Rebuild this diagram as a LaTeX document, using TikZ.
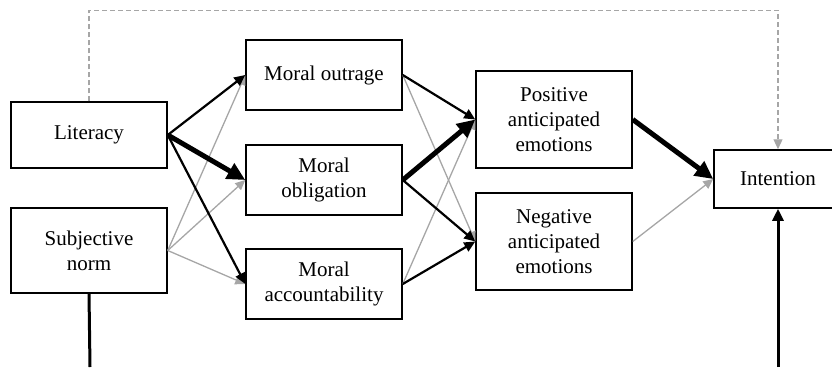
\documentclass[tikz,border=0pt]{standalone}
\usepackage{fontspec}
\setmainfont{Liberation Serif}
\usetikzlibrary{arrows.meta}
\definecolor{lg}{HTML}{A6A6A6}
\tikzset{
  box/.style={draw=black, line width=1.5pt, fill=white, align=center, inner sep=0pt,
    minimum width=156pt, font=\fontsize{21}{25}\selectfont},
  blk/.style={draw=black, line width=2.2pt, -{Triangle[length=11pt,width=10pt]}},
  thk/.style={draw=black, line width=5pt, -{Triangle[length=18pt,width=17pt]}},
  gry/.style={draw=lg, line width=1.3pt, -{Triangle[length=10pt,width=9pt]}},
  dsh/.style={draw=lg, line width=1.2pt, dash pattern=on 5pt off 3pt, -{Triangle[length=10pt,width=9pt]}},
  base/.style={draw=black, line width=3pt},
  basea/.style={draw=black, line width=3pt, -{Triangle[length=12pt,width=11pt]}}
}
\begin{document}
\begin{tikzpicture}[x=1pt,y=-1pt]
\useasboundingbox (0,0) rectangle (832,367);
\node[box, minimum height=66pt] (lit) at (89,135) {Literacy};
\node[box, minimum height=85pt] (sn) at (89,250.5) {Subjective\\norm};
\node[box, minimum height=70pt] (mo) at (324,75) {Moral outrage};
\node[box, minimum height=70pt] (mob) at (324,180) {Moral\\obligation};
\node[box, minimum height=70pt] (ma) at (324,284) {Moral\\accountability};
\node[box, minimum height=97pt] (pos) at (554,119.5) {Positive\\anticipated\\emotions};
\node[box, minimum height=97pt] (neg) at (554,241.5) {Negative\\anticipated\\emotions};
\node[box, minimum height=58pt, minimum width=128pt] (int) at (778,179) {Intention};
\coordinate (b1) at (90,367);
\coordinate (b2) at (778,367);
% gray arrows first
\draw[gry] (sn.east) -- (mo.west);
\draw[gry] (sn.east) -- (mob.west);
\draw[gry] (sn.east) -- (ma.west);
\draw[gry] (mo.east) -- (neg.west);
\draw[gry] (ma.east) -- (pos.west);
\draw[gry] (neg.east) -- (int.west);
% black arrows
\draw[blk] (lit.east) -- (mo.west);
\draw[thk] (lit.east) -- (mob.west);
\draw[blk] (lit.east) -- (ma.west);
\draw[blk] (mo.east) -- (pos.west);
\draw[thk] (mob.east) -- (pos.west);
\draw[blk] (mob.east) -- (neg.west);
\draw[blk] (ma.east) -- (neg.west);
\draw[thk] (pos.east) -- (int.west);
% dashed
\draw[dsh] (lit.north) -- ++(0,-91) -| (int.north);
% bottom lines
\draw[base] (sn.south) -- (b1);
\draw[basea] (b2) -- (int.south);
\end{tikzpicture}
\end{document}
